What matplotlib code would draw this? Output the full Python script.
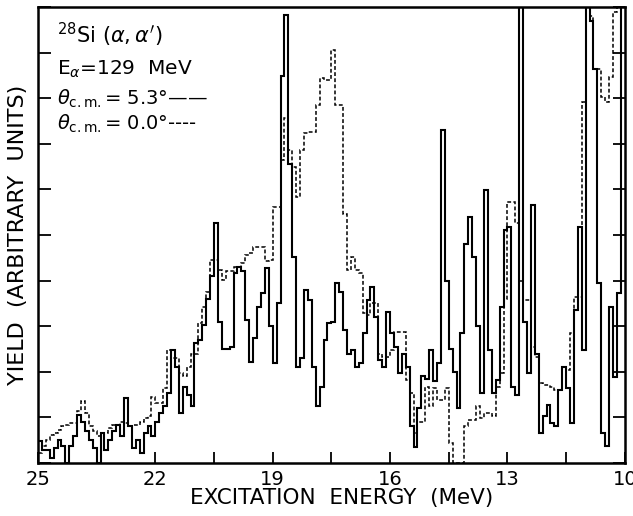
import numpy as np
import matplotlib
matplotlib.use("Agg")
import matplotlib.pyplot as plt

# bins of 0.1 MeV, from 25 MeV down to 10 MeV
e_start = 25.0
e_step = 0.1

# theta_cm = 5.3 deg (solid)
yield_53 = [
    0.47, 0.29, 0.29, 0.10, 0.32, 0.50, 0.36, 0.00, 0.36, 0.58,
    1.05, 0.90, 0.69, 0.50, 0.32, 0.00, 0.65, 0.29, 0.50, 0.69,
    0.83, 0.58, 1.42, 0.80, 0.32, 0.50, 0.21, 0.65, 0.80, 0.58,
    0.90, 1.09, 1.24, 1.53, 2.48, 2.11, 1.09, 1.67, 1.50, 1.24,
    2.62, 2.70, 3.03, 3.60, 4.10, 5.26, 3.10, 2.50, 2.50, 2.55,
    4.16, 4.30, 4.20, 3.14, 2.22, 2.73, 3.43, 3.72, 4.27, 3.00,
    2.19, 3.50, 8.50, 9.82, 6.57, 4.52, 2.11, 2.30, 3.79, 3.57,
    2.11, 1.25, 1.67, 2.70, 3.06, 3.10, 3.94, 3.76, 2.92, 2.40,
    2.48, 2.10, 2.19, 2.84, 3.57, 3.87, 3.20, 2.26, 2.11, 3.32,
    2.84, 2.55, 1.97, 2.40, 2.10, 0.80, 0.35, 1.20, 1.90, 1.85,
    2.48, 1.80, 2.20, 7.30, 4.00, 2.50, 2.00, 1.20, 2.84, 4.80,
    5.40, 4.52, 3.00, 1.53, 5.99, 2.48, 1.53, 1.82, 3.43, 5.11,
    5.18, 1.67, 1.50, 10.5, 3.10, 1.97, 5.66, 2.40, 0.65, 1.02,
    1.27, 0.87, 0.80, 1.60, 2.11, 1.64, 0.87, 3.36, 5.18, 2.48,
    10.5, 9.70, 8.65, 3.94, 0.65, 0.36, 3.43, 1.89, 3.72, 10.5,
]

# theta_cm = 0.0 deg (dashed)
yield_00 = [
    0.21, 0.36, 0.50, 0.61, 0.65, 0.72, 0.80, 0.83, 0.88, 0.88,
    1.13, 1.35, 1.09, 0.80, 0.69, 0.58, 0.58, 0.65, 0.76, 0.83,
    0.83, 0.90, 0.87, 0.80, 0.83, 0.83, 0.90, 0.98, 1.02, 1.45,
    1.31, 1.31, 1.64, 2.48, 2.30, 2.30, 1.97, 1.90, 2.11, 2.40,
    2.40, 3.06, 3.43, 3.76, 4.45, 4.45, 4.23, 4.01, 4.20, 4.20,
    4.30, 4.30, 4.38, 4.56, 4.60, 4.74, 4.74, 4.74, 4.42, 4.45,
    5.62, 5.62, 6.64, 7.56, 6.86, 6.50, 5.84, 6.86, 7.23, 7.27,
    7.27, 7.85, 8.44, 8.40, 8.40, 9.06, 7.85, 7.85, 5.47, 4.23,
    4.52, 4.23, 4.16, 3.28, 3.25, 3.50, 3.50, 2.40, 2.33, 2.33,
    2.48, 2.88, 2.88, 2.88, 1.82, 1.53, 0.65, 0.90, 0.90, 1.67,
    1.24, 1.64, 1.38, 1.38, 1.64, 0.43, 0.00, 0.00, 0.00, 0.80,
    0.94, 0.94, 1.24, 0.98, 1.09, 1.09, 1.02, 1.67, 1.97, 3.60,
    5.73, 5.73, 5.27, 4.00, 3.57, 3.57, 2.55, 2.33, 1.75, 1.71,
    1.71, 1.67, 1.60, 1.60, 1.97, 2.04, 2.84, 3.65, 3.65, 7.92,
    10.5, 9.80, 8.65, 8.65, 8.03, 7.92, 8.47, 9.90, 10.5, 10.5,
]

xticks_major = [25, 22, 19, 16, 13, 10]

nbins = len(yield_53)
edges = e_start - e_step * np.arange(nbins + 1)

fig = plt.figure(figsize=(6.33, 5.16), dpi=100)
ax = fig.add_axes([0.060, 0.103, 0.927, 0.883])

# stairs wants increasing edges, so flip everything
ax.stairs(np.array(yield_00)[::-1], edges[::-1], baseline=None,
          color="black", lw=1.1, linestyle=(0, (2.5, 1.5)))
ax.stairs(np.array(yield_53)[::-1], edges[::-1], baseline=None,
          color="black", lw=1.5)

ax.set_xlim(25, 10)
ax.set_ylim(0, 10)

ax.set_xticks(xticks_major)
ax.set_xticklabels([str(t) for t in xticks_major])
ax.set_xticks(np.arange(10, 25, 1.5), minor=True)
ax.set_yticks(np.arange(0, 11, 1))
ax.set_yticklabels([])
ax.tick_params(axis="x", which="both", direction="in", length=8, width=1.3,
               labelsize=14, pad=5)
ax.tick_params(axis="y", which="both", direction="in", length=9, width=1.3,
               left=True, right=True)
for s in ax.spines.values():
    s.set_linewidth(1.8)

ax.set_xlabel("EXCITATION  ENERGY  (MeV)", fontsize=15.5, labelpad=1)
ax.xaxis.set_label_coords(0.517, -0.055)
ax.set_ylabel("YIELD  (ARBITRARY  UNITS)", fontsize=16, labelpad=4)

plt.rcParams["mathtext.fontset"] = "dejavusans"
tx = 0.033
ax.text(tx, 0.920, r"$^{28}$Si $(\alpha,\alpha^{\prime})$", transform=ax.transAxes,
        fontsize=15, va="baseline")
ax.text(tx, 0.852, r"E$_{\alpha}$=129  MeV", transform=ax.transAxes,
        fontsize=14.5, va="baseline")
ax.text(tx, 0.787, r"$\theta_{\mathrm{c.m.}}$= 5.3$\degree$" + "\u2014\u2014",
        transform=ax.transAxes, fontsize=14, va="baseline")
ax.text(tx, 0.732, r"$\theta_{\mathrm{c.m.}}$= 0.0$\degree$" + "----",
        transform=ax.transAxes, fontsize=14, va="baseline")

fig.savefig("out.png", dpi=100)
